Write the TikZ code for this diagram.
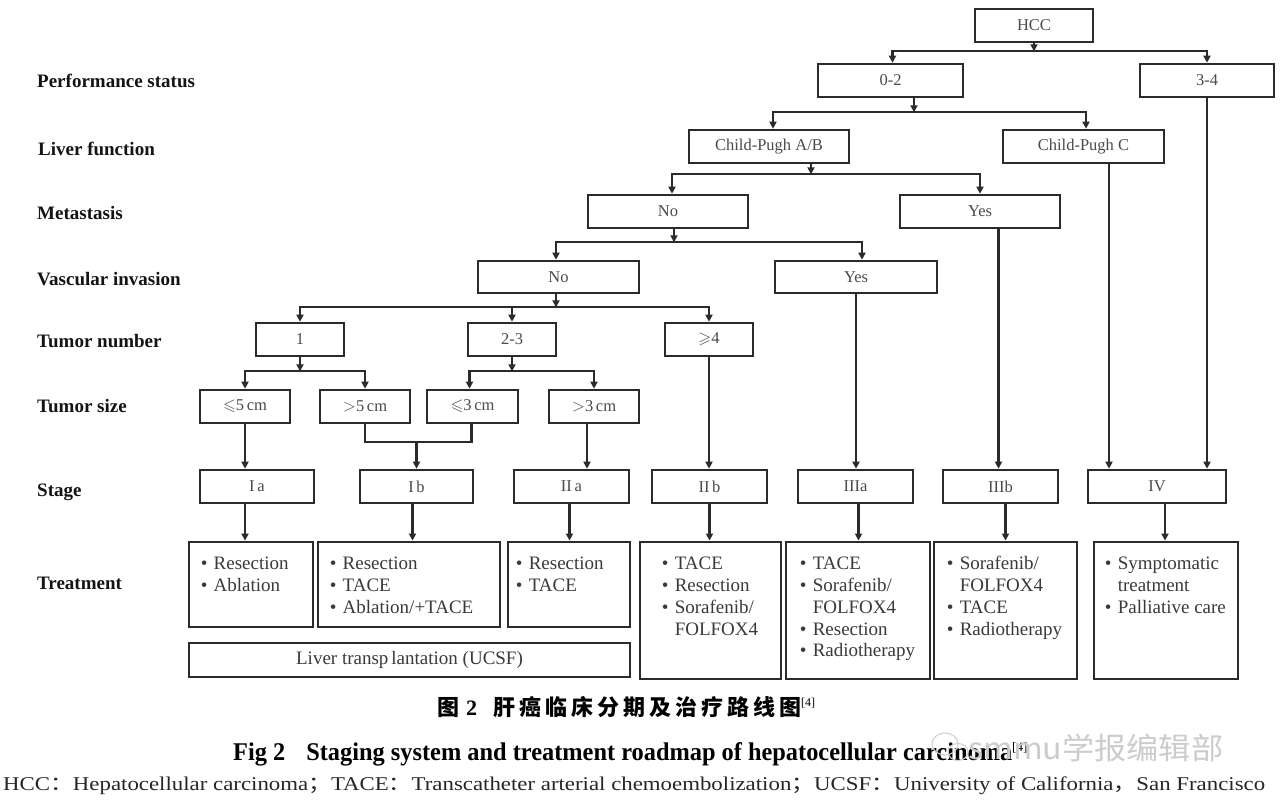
\documentclass[tikz,border=0pt]{standalone}
\usepackage{fontspec}
\usepackage{amssymb}
\usepackage{graphicx}
\setmainfont{Liberation Serif}
\newfontfamily\cjk{Noto Sans CJK SC}
\usetikzlibrary{arrows.meta}
\definecolor{lc}{HTML}{2B2B2B}
\definecolor{tc}{HTML}{3A3A3A}
\definecolor{bt}{HTML}{4A4A4A}
\newcommand\tbul{\makebox[13pt][l]{\textbullet}}
\newcommand\tind{\hspace*{13pt}}
\newcommand\cg{\hspace{4pt}}
\begin{document}
\begin{tikzpicture}[x=1pt,y=-1pt,
  box/.style={draw=lc, line width=2.6pt, inner sep=0pt, text=bt, font=\fontsize{16.5}{19}\selectfont},
  tbox/.style={draw=lc, line width=2.9pt, inner sep=0pt},
  lab/.style={anchor=base west, inner sep=0pt, font=\fontsize{19}{22}\selectfont\bfseries, text=black!92},
  conn/.style={draw=lc, line width=2.3pt},
  arr/.style={conn, -{Triangle[length=7pt,width=7pt]}},
  tx/.style={anchor=north west, inner sep=0pt, align=left, text=tc, font=\fontsize{19}{21.75}\selectfont}]
\useasboundingbox (0,0) rectangle (1280,811);
\fill[white] (0,0) rectangle (1280,811);

% left labels
\node[lab] (lps) at (37,87) {Performance status};
\node[lab] (llf) at (38,155) {Liver function};
\node[lab] (lme) at (37,219) {Metastasis};
\node[lab] (lvi) at (37,285) {Vascular invasion};
\node[lab] (ltn) at (37,347) {Tumor number};
\node[lab] (lts) at (37,412) {Tumor size};
\node[lab] (lst) at (37,496) {Stage};
\node[lab] (ltr) at (37,589) {Treatment};

% decision boxes
\node[box, minimum width=118pt, minimum height=33pt] (hcc) at (1034,25.5) {HCC};
\node[box, minimum width=145pt, minimum height=33pt] (n02) at (890.5,80.5) {0-2};
\node[box, minimum width=134pt, minimum height=33pt] (n34) at (1207,80.5) {3-4};
\node[box, minimum width=160pt, minimum height=33pt] (cpab) at (769,146.5) {Child-Pugh A/B};
\node[box, minimum width=161pt, minimum height=33pt] (cpc) at (1083.5,146.5) {Child-Pugh C};
\node[box, minimum width=160pt, minimum height=33pt] (mno) at (668,211.5) {No};
\node[box, minimum width=160pt, minimum height=33pt] (myes) at (980,211.5) {Yes};
\node[box, minimum width=161pt, minimum height=32pt] (vno) at (558.5,277) {No};
\node[box, minimum width=162pt, minimum height=32pt] (vyes) at (856,277) {Yes};
\node[box, minimum width=88pt, minimum height=33pt] (t1) at (300,339.5) {1};
\node[box, minimum width=88pt, minimum height=33pt] (t23) at (512,339.5) {2-3};
\node[box, minimum width=88pt, minimum height=33pt] (t4) at (709,339.5) {$\geqslant$4};
\node[box, minimum width=90pt, minimum height=33pt] (s1) at (245,406.5) {$\leqslant$5\,cm};
\node[box, minimum width=90pt, minimum height=33pt] (s2) at (365,406.5) {$>$5\,cm};
\node[box, minimum width=91pt, minimum height=33pt] (s3) at (472.5,406.5) {$\leqslant$3\,cm};
\node[box, minimum width=90pt, minimum height=33pt] (s4) at (594,406.5) {$>$3\,cm};

% stages
\node[box, minimum width=114pt, minimum height=33pt] (ia) at (257,486.5) {I\,a};
\node[box, minimum width=113pt, minimum height=33pt] (ib) at (416.5,486.5) {I\,b};
\node[box, minimum width=115pt, minimum height=33pt] (iia) at (571.5,486.5) {II\,a};
\node[box, minimum width=115pt, minimum height=33pt] (iib) at (709.5,486.5) {II\,b};
\node[box, minimum width=115pt, minimum height=33pt] (iiia) at (855.5,486.5) {IIIa};
\node[box, minimum width=115pt, minimum height=33pt] (iiib) at (1000.5,486.5) {IIIb};
\node[box, minimum width=138pt, minimum height=33pt] (iv) at (1157,486.5) {IV};

% treatment boxes
\node[tbox, minimum width=124pt, minimum height=85pt] (tia) at (251,584.5) {};
\node[tbox, minimum width=182pt, minimum height=85pt] (tib) at (409,584.5) {};
\node[tbox, minimum width=122pt, minimum height=85pt] (tiia) at (569,584.5) {};
\node[tbox, minimum width=141pt, minimum height=137pt] (tiib) at (710.5,610.5) {};
\node[tbox, minimum width=144pt, minimum height=137pt] (tiiia) at (858,610.5) {};
\node[tbox, minimum width=143pt, minimum height=137pt] (tiiib) at (1005.5,610.5) {};
\node[tbox, minimum width=144pt, minimum height=137pt] (tiv) at (1166,610.5) {};
\node[tbox, minimum width=441pt, minimum height=34pt, text=tc, font=\fontsize{19}{22}\selectfont] (lt) at (409.5,660) {Liver transp\hspace{3pt}lantation (UCSF)};

% treatment texts
\node[tx] (xia) at ([xshift=13pt,yshift=-13.8pt]tia.north west) {\strut\tbul Resection\\\tbul Ablation};
\node[tx] (xib) at ([xshift=13pt,yshift=-13.8pt]tib.north west) {\strut\tbul Resection\\\tbul TACE\\\tbul Ablation/+TACE};
\node[tx] (xiia) at ([xshift=9pt,yshift=-13.8pt]tiia.north west) {\strut\tbul Resection\\\tbul TACE};
\node[tx] (xiib) at ([xshift=23pt,yshift=-13.8pt]tiib.north west) {\strut\tbul TACE\\\tbul Resection\\\tbul Sorafenib/\\\tind FOLFOX4};
\node[tx] (xiiia) at ([xshift=15pt,yshift=-13.8pt]tiiia.north west) {\strut\tbul TACE\\\tbul Sorafenib/\\\tind FOLFOX4\\\tbul Resection\\\tbul Radiotherapy};
\node[tx] (xiiib) at ([xshift=14pt,yshift=-13.8pt]tiiib.north west) {\strut\tbul Sorafenib/\\\tind FOLFOX4\\\tbul TACE\\\tbul Radiotherapy};
\node[tx] (xiv) at ([xshift=12pt,yshift=-13.8pt]tiv.north west) {\strut\tbul Symptomatic\\\tind treatment\\\tbul Palliative care};

% connectors
\draw[arr] (hcc.south) -- ++(0,8) coordinate (j0);
\draw[arr] (j0) -| ([xshift=2pt]n02.north);
\draw[arr] (j0) -| (n34.north);
\draw[arr] ([xshift=23.5pt]n02.south) -- ++(0,14) coordinate (j1);
\draw[arr] (j1) -| ([xshift=4pt]cpab.north);
\draw[arr] (j1) -| ([xshift=2.5pt]cpc.north);
\draw[arr] ([xshift=42pt]cpab.south) -- ++(0,10) coordinate (j2);
\draw[arr] (j2) -| ([xshift=4pt]mno.north);
\draw[arr] (j2) -| (myes.north);
\draw[arr] ([xshift=6pt]mno.south) -- ++(0,13) coordinate (j3);
\draw[arr] (j3) -| ([xshift=-2.5pt]vno.north);
\draw[arr] (j3) -| ([xshift=6pt]vyes.north);
\draw[arr] ([xshift=-2.5pt]vno.south) -- ++(0,13) coordinate (j4);
\draw[arr] (j4) -| (t1.north);
\draw[arr] (j4) -| (t23.north);
\draw[arr] (j4) -| (t4.north);
\draw[arr] (t1.south) -- ++(0,14) coordinate (j5);
\draw[arr] (j5) -| (s1.north);
\draw[arr] (j5) -| (s2.north);
\draw[arr] (t23.south) -- ++(0,14) coordinate (j6);
\draw[arr] (j6) -| ([xshift=-3pt]s3.north);
\draw[arr] (j6) -| (s4.north);
\draw[arr] (s1.south) -- (s1.south |- ia.north);
\draw[conn] (s2.south) -- ++(0,18) coordinate (j7) -| ([xshift=-1pt]s3.south);
\draw[arr] (ib.north |- j7) -- (ib.north);
\draw[arr] ([xshift=-7pt]s4.south) -- ([xshift=-7pt]s4.south |- iia.north);
\draw[arr] (t4.south) -- (t4.south |- iib.north);
\draw[arr] (vyes.south) -- (vyes.south |- iiia.north);
\draw[arr] ([xshift=-2pt]iiib.north |- myes.south) -- ([xshift=-2pt]iiib.north);
\draw[arr] ([xshift=25.5pt]cpc.south) -- ([xshift=25.5pt]cpc.south |- iv.north);
\draw[arr] (n34.south) -- (n34.south |- iv.north);

\draw[arr] ([xshift=-12pt]ia.south) -- ([xshift=-12pt]ia.south |- tia.north);
\draw[arr] ([xshift=-4pt]ib.south) -- ([xshift=-4pt]ib.south |- tib.north);
\draw[arr] ([xshift=-2pt]iia.south) -- ([xshift=-2pt]iia.south |- tiia.north);
\draw[arr] (iib.south) -- (iib.south |- tiib.north);
\draw[arr] ([xshift=3pt]iiia.south) -- ([xshift=3pt]iiia.south |- tiiia.north);
\draw[arr] ([xshift=5pt]iiib.south) -- ([xshift=5pt]iiib.south |- tiiib.north);
\draw[arr] ([xshift=8pt]iv.south) -- ([xshift=8pt]iv.south |- tiv.north);

% captions
\node[anchor=base west, inner sep=0pt] (cap1) at (437,715)
  {\cjk\fontsize{22}{24}\selectfont\bfseries 图\hspace{7pt}{\rmfamily\bfseries 2}\hspace{16pt}肝\cg 癌\cg 临\cg 床\cg 分\cg 期\cg 及\cg 治\cg 疗\cg 路\cg 线\cg 图\raisebox{9pt}{\rmfamily\mdseries\fontsize{12}{12}\selectfont[4]}};
\node[anchor=base west, inner sep=0pt] (cap2) at (233,760)
  {\resizebox{779pt}{\height}{\fontsize{25.5}{28}\selectfont\bfseries Fig 2\hspace{22pt}Staging system and treatment roadmap of hepatocellular carcinoma}\raisebox{9pt}{\fontsize{13}{13}\selectfont[4]}};
\node[anchor=base west, inner sep=0pt, text=black!85] (cap3) at (3,790)
  {\resizebox{1262pt}{\height}{\fontsize{19.5}{22}\selectfont HCC{\cjk ：}Hepatocellular carcinoma{\cjk ；}TACE{\cjk ：}Transcatheter arterial chemoembolization{\cjk ；}UCSF{\cjk ：}University of California{\cjk ，}San Francisco}};

% watermark
\draw[black!18, line width=1.1pt] (945,744) ellipse (13pt and 11pt);
\draw[black!18, line width=1.1pt] (958,752) ellipse (10pt and 8.5pt);
\node[anchor=base west, inner sep=0pt, text=black!20] (wm) at (968,759)
  {\resizebox{255pt}{\height}{\cjk\fontsize{30}{30}\selectfont smmu学报编辑部}};
\end{tikzpicture}
\end{document}
